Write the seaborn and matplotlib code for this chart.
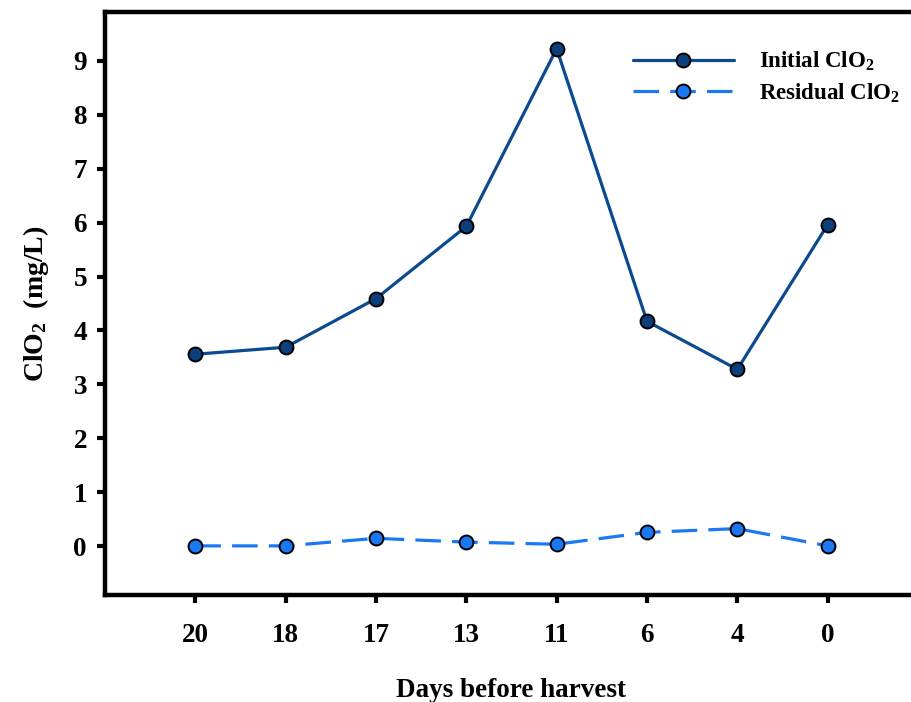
import matplotlib
matplotlib.use("Agg")
import matplotlib.pyplot as plt
import seaborn as sns
import pandas as pd

days = ["20", "18", "17", "13", "11", "6", "4", "0"]
initial_clo2 = [3.56, 3.69, 4.59, 5.93, 9.22, 4.17, 3.28, 5.96]
residual_clo2 = [0.01, 0.01, 0.15, 0.08, 0.04, 0.26, 0.33, 0.01]

sns.set_theme(style="white")
plt.rcParams["font.family"] = ["Liberation Serif", "DejaVu Serif"]
plt.rcParams["font.weight"] = "bold"
plt.rcParams["text.color"] = "black"
plt.rcParams["axes.labelcolor"] = "black"
plt.rcParams["xtick.color"] = "black"
plt.rcParams["ytick.color"] = "black"
plt.rcParams["mathtext.fontset"] = "custom"
plt.rcParams["mathtext.rm"] = "Liberation Serif:bold"
plt.rcParams["mathtext.bf"] = "Liberation Serif:bold"
plt.rcParams["mathtext.it"] = "Liberation Serif:bold"

df = pd.DataFrame({"day": days, "initial": initial_clo2, "residual": residual_clo2})

fig = plt.figure(figsize=(9.11, 7.02), dpi=100)
ax = fig.add_axes([105 / 911, 107 / 702, 813 / 911, 583 / 702])

dark = "#0b4a8e"
bright = "#1a78f5"

sns.lineplot(data=df, x="day", y="initial", ax=ax, color=dark, lw=2.3,
             marker="o", markersize=10, markerfacecolor="#0c3f7c",
             markeredgecolor="black", markeredgewidth=1.4,
             label="Initial ClO$_\\mathregular{2}$", sort=False)
sns.lineplot(data=df, x="day", y="residual", ax=ax, color=bright, lw=2.3,
             marker="o", markersize=10, markerfacecolor=bright,
             markeredgecolor="black", markeredgewidth=1.4,
             label="Residual ClO$_2$", sort=False)
ax.lines[1].set_dashes((8, 3.5))

ax.set_xlim(-1, 8)
ax.set_ylim(-0.9, 9.9)
ax.set_yticks(range(0, 10))

for side in ["left", "bottom", "top"]:
    ax.spines[side].set_visible(True)
    ax.spines[side].set_linewidth(3.2)
    ax.spines[side].set_color("black")
ax.spines["right"].set_visible(False)

ax.tick_params(axis="both", direction="out", length=6, width=3, color="black",
               labelsize=19.5, pad=7, left=True, bottom=True, labelcolor="black")
for t in ax.get_xticklabels() + ax.get_yticklabels():
    t.set_fontweight("bold")
ax.tick_params(axis="x", pad=14)

ax.set_xlabel("Days before harvest", fontsize=19.5, fontweight="bold", labelpad=22)
ax.set_ylabel("ClO$_\\mathregular{2}$  (mg/L)", fontsize=20, fontweight="bold", labelpad=16)

leg = ax.legend(loc="upper right", bbox_to_anchor=(1.003, 0.97), frameon=False,
                fontsize=16.5, handlelength=4.4, handletextpad=1.1, labelspacing=0.35)
for txt in leg.get_texts():
    txt.set_fontweight("bold")
    txt.set_color("black")
for h in leg.get_lines():
    h.set_linewidth(2.3)

fig.savefig("out.png", dpi=100)
